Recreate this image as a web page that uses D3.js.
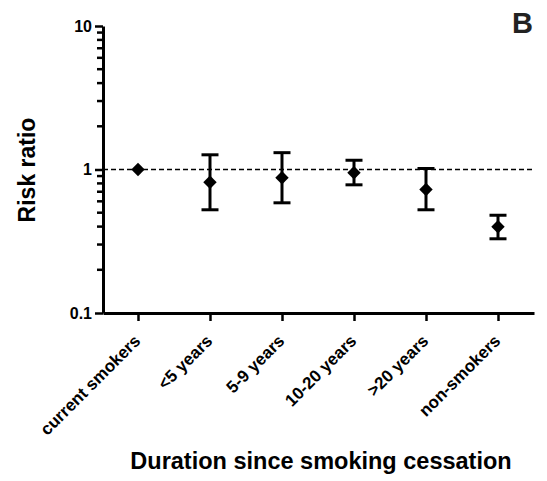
<!DOCTYPE html>
<html>
<head>
<meta charset="utf-8">
<script src="https://cdn.jsdelivr.net/npm/d3@7"></script>
<style>
  body { margin: 0; background: #fff; }
  svg text { font-family: "Liberation Sans", Arial, sans-serif; font-weight: bold; }
</style>
</head>
<body>
<div id="chart"></div>
<script>
// Risk ratio by duration since smoking cessation (panel B)
const categories = ['current smokers', '<5 years', '5-9 years', '10-20 years', '>20 years', 'non-smokers'];
const riskRatio = [1.0, 0.815, 0.875, 0.948, 0.726, 0.399];
const lowerCI = [null, 0.524, 0.586, 0.782, 0.524, 0.329];
const upperCI = [null, 1.266, 1.31, 1.16, 1.016, 0.48];
const majorTicks = [0.1, 1, 10];
const minorTicks = [0.2, 0.3, 0.4, 0.5, 0.6, 0.7, 0.8, 0.9, 2, 3, 4, 5, 6, 7, 8, 9];

const W = 547, H = 481;
const axisX = 103, axisY = 313;

const svg = d3.select('#chart').append('svg')
    .attr('width', W)
    .attr('height', H);

// scales
const x = d3.scaleLinear()
    .domain([-0.486, 5.5])
    .range([axisX, 534]);

const y = d3.scaleLog()
    .domain([0.1, 10])
    .range([axisY, 26]);

// reference line at 1
svg.append('line')
    .attr('x1', axisX)
    .attr('x2', 532)
    .attr('y1', y(1))
    .attr('y2', y(1))
    .attr('stroke', '#000')
    .attr('stroke-width', 1.5)
    .attr('stroke-dasharray', '5,3');

// y axis - major ticks
const yAxis = svg.append('g')
    .attr('transform', `translate(${axisX},0)`)
    .call(d3.axisLeft(y).tickValues(majorTicks).tickFormat(d => d).tickSize(8).tickSizeOuter(0).tickPadding(3));
yAxis.select('.domain').attr('stroke-width', 3);
yAxis.selectAll('.tick line').attr('stroke-width', 2.5);
yAxis.selectAll('.tick text')
    .attr('fill', '#000')
    .style('font-size', '16px');

// y axis - minor ticks (drawn from the log scale)
svg.append('g')
    .attr('class', 'minor')
    .selectAll('line')
    .data(minorTicks)
    .enter().append('line')
    .attr('x1', axisX - 6)
    .attr('x2', axisX)
    .attr('y1', d => y(d))
    .attr('y2', d => y(d))
    .attr('stroke', '#000')
    .attr('stroke-width', 2.5);

// x axis
const xAxis = svg.append('g')
    .attr('transform', `translate(0,${axisY})`)
    .call(d3.axisBottom(x).tickValues(d3.range(categories.length)).tickFormat(i => categories[i]).tickSize(8).tickSizeOuter(0));
xAxis.select('.domain').attr('stroke-width', 3);
xAxis.selectAll('.tick line').attr('stroke-width', 2.5);
xAxis.selectAll('.tick text')
    .attr('fill', '#000')
    .attr('y', 0)
    .attr('dy', 0)
    .attr('text-anchor', 'end')
    .attr('transform', 'translate(3,29) rotate(-45)')
    .style('font-size', '17px');

// error bars
const idx = d3.range(categories.length).filter(i => lowerCI[i] != null);
const bars = svg.append('g');
bars.selectAll('.stem')
    .data(idx)
    .enter().append('line')
    .attr('x1', i => x(i)).attr('x2', i => x(i))
    .attr('y1', i => y(lowerCI[i])).attr('y2', i => y(upperCI[i]))
    .attr('stroke', '#000').attr('stroke-width', 3);
['lo', 'hi'].forEach(k => {
    bars.selectAll('.cap-' + k)
        .data(idx)
        .enter().append('line')
        .attr('x1', i => x(i) - 8.5).attr('x2', i => x(i) + 8.5)
        .attr('y1', i => y(k === 'lo' ? lowerCI[i] : upperCI[i]))
        .attr('y2', i => y(k === 'lo' ? lowerCI[i] : upperCI[i]))
        .attr('stroke', '#000').attr('stroke-width', 3);
});

// diamonds
svg.append('g').selectAll('path')
    .data(riskRatio)
    .enter().append('path')
    .attr('d', d3.symbol(d3.symbolSquare, 90))
    .attr('transform', (d, i) => `translate(${x(i)},${y(d)}) rotate(45)`)
    .attr('fill', '#000');

// axis titles
svg.append('text')
    .attr('transform', `translate(35,170) rotate(-90)`)
    .attr('text-anchor', 'middle')
    .style('font-size', '23px')
    .text('Risk ratio');

svg.append('text')
    .attr('x', 321)
    .attr('y', 469)
    .attr('text-anchor', 'middle')
    .style('font-size', '23.5px')
    .text('Duration since smoking cessation');

// panel label
svg.append('text')
    .attr('x', 512)
    .attr('y', 33)
    .style('font-size', '29px')
    .attr('fill', '#222')
    .text('B');
</script>
</body>
</html>
